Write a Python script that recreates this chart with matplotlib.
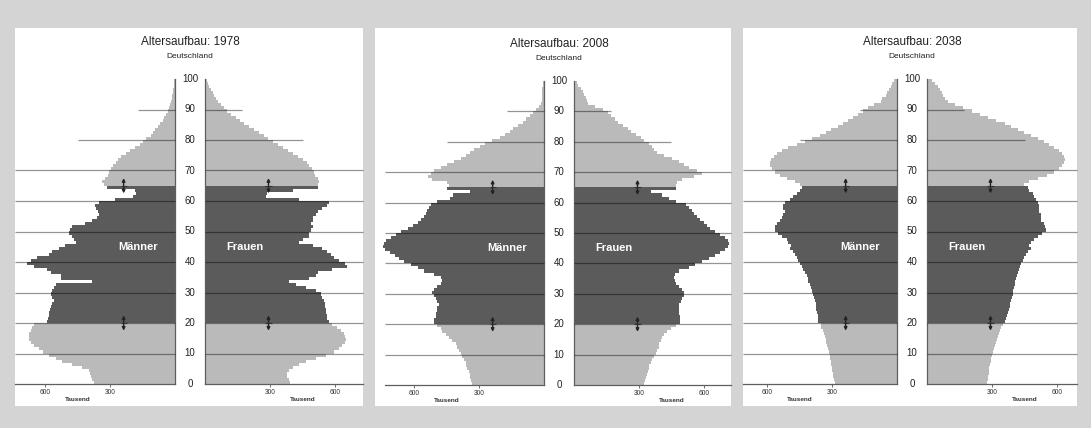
import numpy as np
import matplotlib
matplotlib.use('Agg')
import matplotlib.pyplot as plt
from matplotlib.patches import Rectangle

plt.rcParams['font.family'] = ['Liberation Sans', 'DejaVu Sans']

# Bevölkerung je Altersjahr (0..99), in Tausend
ages = np.arange(100)

men_1978 = [376, 381, 387, 391, 399, 429, 475, 521, 551, 582,
            609, 627, 650, 665, 673, 676, 673, 666, 658, 650,
            589, 585, 582, 582, 578, 574, 567, 559, 567, 574,
            567, 559, 551, 384, 528, 528, 574, 589, 650, 681,
            665, 635, 582, 567, 536, 506, 457, 467, 475, 490,
            483, 475, 414, 384, 361, 353, 356, 365, 369, 353,
            277, 193, 180, 185, 315, 330, 336, 325, 311, 305,
            295, 285, 274, 262, 247, 228, 209, 186, 163, 148,
            132, 113, 102, 91, 79, 67, 56, 49, 41, 34,
            26, 21, 18, 15, 13, 11, 8, 6, 4, 3]
women_1978 = [391, 388, 380, 379, 388, 406, 436, 467, 512, 557,
              595, 618, 633, 648, 653, 648, 641, 626, 610, 588,
              570, 565, 562, 560, 557, 555, 555, 550, 542, 535,
              512, 467, 421, 388, 482, 512, 520, 588, 656, 648,
              618, 595, 580, 565, 542, 497, 436, 451, 482, 482,
              489, 497, 489, 497, 497, 512, 520, 542, 565, 573,
              436, 280, 285, 406, 520, 520, 524, 520, 509, 504,
              494, 482, 470, 451, 429, 406, 383, 361, 338, 315,
              292, 270, 247, 224, 201, 179, 161, 141, 121, 103,
              88, 73, 60, 50, 42, 35, 27, 20, 13, 7]

men_2008 = [332, 337, 340, 343, 347, 355, 358, 362, 370, 378,
            385, 393, 401, 408, 423, 439, 454, 469, 477, 492,
            507, 507, 500, 500, 492, 492, 485, 492, 500, 510,
            515, 507, 492, 477, 469, 477, 507, 553, 583, 614,
            644, 667, 690, 713, 733, 743, 739, 728, 705, 682,
            659, 629, 606, 583, 568, 553, 545, 538, 530, 522,
            492, 435, 420, 340, 446, 439, 446, 515, 535, 522,
            507, 477, 446, 416, 385, 362, 340, 324, 294, 271,
            241, 203, 180, 157, 142, 119, 99, 81, 65, 50,
            35, 23, 14, 11, 10, 9, 8, 8, 5, 3]
women_2008 = [324, 329, 332, 335, 340, 344, 347, 355, 362, 370,
              378, 385, 390, 393, 400, 408, 416, 431, 446, 469,
              489, 489, 487, 485, 484, 484, 484, 492, 500, 507,
              507, 500, 484, 472, 466, 461, 466, 484, 530, 560,
              591, 621, 652, 675, 698, 713, 716, 710, 698, 675,
              652, 629, 614, 599, 583, 568, 553, 545, 530, 515,
              469, 439, 408, 355, 469, 469, 477, 500, 553, 591,
              568, 530, 507, 484, 454, 416, 385, 370, 359, 344,
              324, 309, 286, 263, 248, 225, 203, 187, 172, 157,
              134, 96, 65, 60, 55, 48, 40, 30, 20, 12]

men_2038 = [288, 291, 294, 295, 299, 300, 303, 306, 308, 311,
            314, 318, 321, 326, 329, 334, 337, 341, 349, 352,
            364, 364, 364, 367, 372, 372, 376, 379, 382, 387,
            391, 398, 402, 410, 413, 417, 425, 433, 440, 448,
            455, 463, 471, 478, 493, 489, 501, 509, 532, 547,
            565, 562, 554, 539, 532, 524, 519, 524, 524, 516,
            493, 478, 463, 448, 440, 448, 471, 509, 539, 562,
            577, 585, 585, 580, 570, 554, 532, 501, 463, 425,
            394, 356, 326, 303, 273, 250, 227, 204, 181, 158,
            136, 105, 75, 67, 52, 44, 37, 29, 21, 14]
women_2038 = [279, 280, 282, 285, 286, 288, 291, 294, 297, 300,
              305, 308, 312, 318, 323, 327, 332, 338, 343, 350,
              358, 364, 370, 376, 379, 382, 385, 388, 391, 396,
              399, 400, 404, 407, 411, 414, 419, 423, 429, 434,
              442, 449, 457, 465, 480, 472, 480, 495, 510, 533,
              548, 544, 538, 528, 525, 525, 518, 518, 518, 510,
              503, 495, 487, 472, 465, 449, 472, 510, 556, 586,
              609, 624, 632, 635, 632, 624, 609, 586, 564, 541,
              510, 480, 449, 419, 388, 358, 320, 282, 244, 206,
              168, 129, 99, 84, 76, 69, 61, 50, 38, 23]

years = ['1978', '2008', '2038']
men = [men_1978, men_2008, men_2038]
women = [women_1978, women_2008, women_2038]
grid_ages = [10, 20, 30, 40, 50, 60, 70, 80, 90]
age_labels = [0, 10, 20, 30, 40, 50, 60, 70, 80, 90, 100]

# Layout in Pixeln (Bild 1091x428)
W, H = 1091, 428
PXK = 65 / 300  # Pixel pro Tausend
layout = [
    dict(box=(15, 28, 363, 406), sl=175, sr=205, y100=79, y0=384, gl=15, ty=42),
    dict(box=(375, 28, 731, 406), sl=544, sr=574, y100=81, y0=385, gl=385, ty=44),
    dict(box=(743, 28, 1077, 406), sl=897, sr=927, y100=79, y0=384, gl=743, ty=42),
]

LIGHT = '#bababa'
DARK = '#5b5b5b'
SPINE = '#5e5e5e'


def rect(x0, y0, x1, y1):
    return [x0 / W, 1 - y1 / H, (x1 - x0) / W, (y1 - y0) / H]


def bar_colors():
    return [DARK if 20 <= a < 65 else LIGHT for a in ages]


fig = plt.figure(figsize=(W / 100, H / 100), dpi=100, facecolor='#d4d4d4')

for year, m, f, lay in zip(years, men, women, layout):
    bx0, by0, bx1, by1 = lay['box']
    fig.patches.append(Rectangle((bx0 / W, 1 - by1 / H), (bx1 - bx0) / W, (by1 - by0) / H,
                                 transform=fig.transFigure, facecolor='white',
                                 edgecolor='none', zorder=-5))

    span_l = (lay['sl'] - bx0) / PXK
    span_r = (bx1 - lay['sr']) / PXK
    grid_l = (lay['sl'] - lay['gl']) / PXK

    ax_l = fig.add_axes(rect(bx0, lay['y100'], lay['sl'], lay['y0']))
    ax_r = fig.add_axes(rect(lay['sr'], lay['y100'], bx1, lay['y0']))

    for ax, vals, span, gext, label, lx, ax_x in [
            (ax_l, m, span_l, grid_l, 'Männer', 170, 237),
            (ax_r, f, span_r, span_r, 'Frauen', 185, 293)]:
        ax.patch.set_alpha(0)
        ax.barh(ages, vals, height=1.0, align='edge', color=bar_colors(), linewidth=0)
        ax.set_ylim(0, 100)
        for g in grid_ages:
            ext = gext if g <= 70 else (450 if g == 80 else 170)
            ax.hlines(g, 0, ext, color='black', alpha=0.42, lw=0.9, zorder=3, clip_on=False)
        # Pfeile bei 20 und 65 Jahren
        for a in (20, 65):
            ax.annotate('', xy=(ax_x, a + 2.5), xytext=(ax_x, a - 2.5),
                        arrowprops=dict(arrowstyle='<|-|>', color='#222222', lw=1.0,
                                        mutation_scale=4.5, shrinkA=0, shrinkB=0), zorder=5)
            ax.hlines(a, ax_x - 14, ax_x + 14, color='#333333', lw=0.8, zorder=5)
        ax.text(lx, 45, label, color='white', fontsize=8, fontweight='bold',
                ha='center', va='center', zorder=6)
        ax.set_yticks([])
        ax.set_xticks([300, 600])
        ax.set_xticklabels(['300', '600'], fontsize=4.8, color='#333333')
        ax.tick_params(axis='x', length=2, width=0.6, pad=1.5, color='#555555')
        ax.spines['top'].set_visible(False)
        for s in ('bottom', 'left', 'right'):
            ax.spines[s].set_color(SPINE)
            ax.spines[s].set_linewidth(0.9)
        ax.spines['bottom'].set_bounds(0, gext)
        ax.text(450, -0.052, 'Tausend', fontsize=4.6, fontweight='bold', color='#333333',
                ha='center', va='center', transform=ax.get_xaxis_transform())

    ax_l.set_xlim(span_l, 0)
    ax_l.spines['left'].set_visible(False)
    ax_r.set_xlim(0, span_r)
    ax_r.spines['right'].set_visible(False)

    cx = (lay['sl'] + lay['sr']) / 2
    for a in age_labels:
        ypx = lay['y0'] - a / 100 * (lay['y0'] - lay['y100'])
        fig.text(cx / W, 1 - ypx / H, str(a), fontsize=7, color='#222222',
                 ha='center', va='center')

    fig.text(cx / W, 1 - lay['ty'] / H, 'Altersaufbau: ' + year, fontsize=8.5,
             color='#222222', ha='center', va='center')
    fig.text(cx / W, 1 - (lay['ty'] + 15) / H, 'Deutschland', fontsize=6,
             color='#222222', ha='center', va='center')

fig.savefig('out.png', dpi=100, facecolor=fig.get_facecolor())
